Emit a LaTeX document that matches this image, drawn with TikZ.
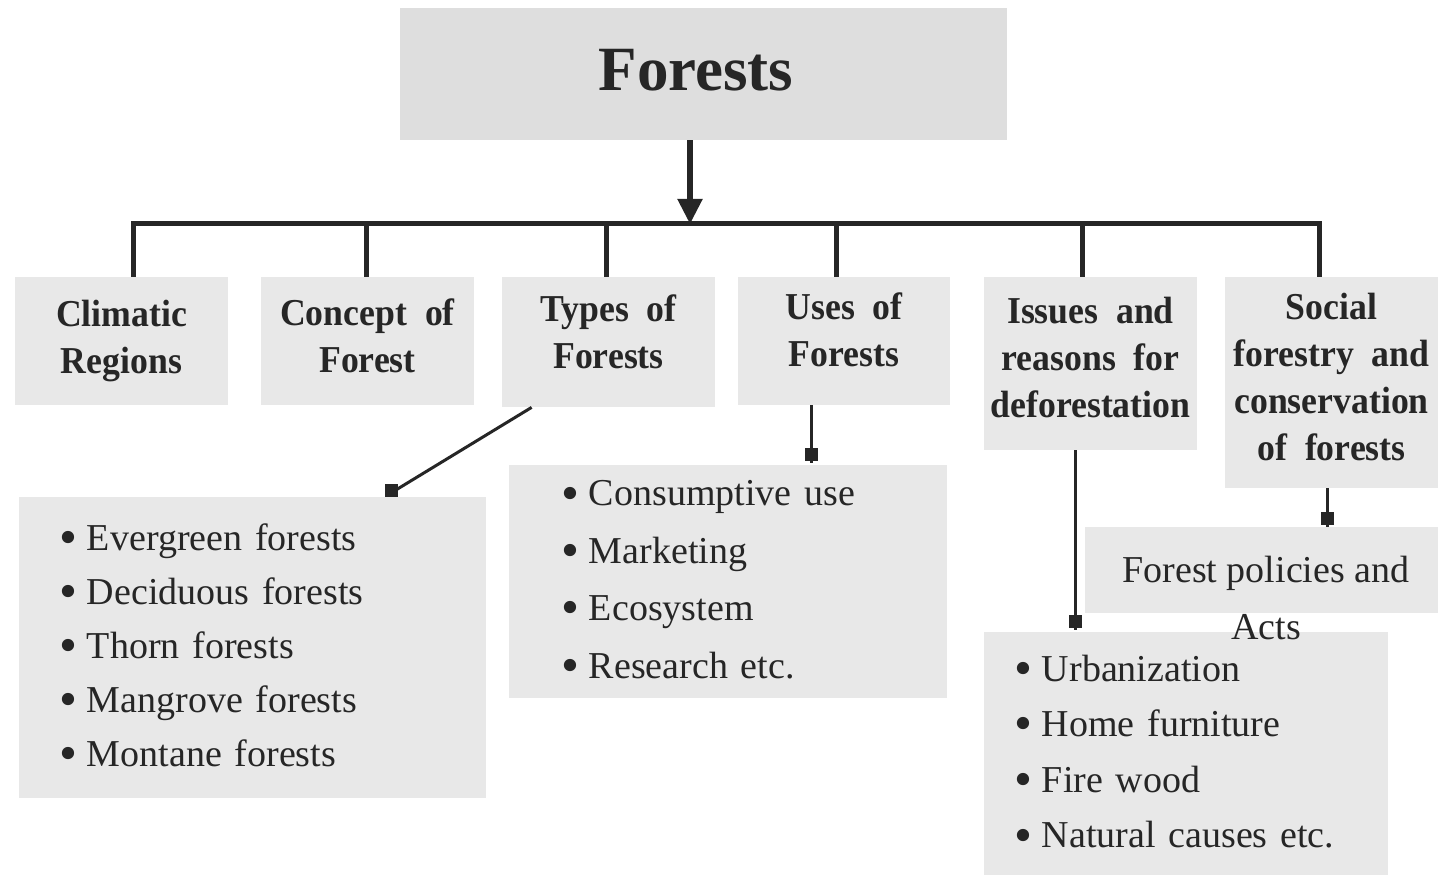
\documentclass[tikz,border=0pt]{standalone}
\usepackage{fontspec}
\setmainfont{Liberation Serif}
\newfontfamily\headfont[FakeStretch=0.94]{Liberation Serif}
\usetikzlibrary{arrows.meta}
\definecolor{boxgray}{HTML}{E8E8E8}
\definecolor{topgray}{HTML}{DEDEDE}
\definecolor{ink}{HTML}{262626}
\newcommand\itembul{\raisebox{-2.1pt}{\scalebox{1.35}{\textbullet}}\hspace{5pt}}
\newcommand\dph{\vphantom{g}}
\newcommand\dpx[1]{\rule[-#1]{0pt}{0pt}}
\begin{document}
\begin{tikzpicture}[x=0.5pt,y=-0.5pt,
  box/.style={fill=boxgray, draw=none, inner sep=0pt, text=ink},
  head/.style={box, minimum width=106.5pt, minimum height=64pt, align=center,
    font=\headfont\bfseries\fontsize{19}{23.5}\selectfont},
  listbox/.style={box, align=left, inner ysep=0pt},
  barline/.style={line width=2.5pt, draw=ink},
  conn/.style={line width=1.5pt, draw=ink},
  sq/.style={fill=ink, draw=none, inner sep=0pt, minimum size=6.5pt, anchor=south}]
\useasboundingbox (0,0) rectangle (1439,876);

% title
\node[fill=topgray, inner sep=0pt, minimum width=303.5pt, minimum height=66pt] (title) at (703.5,74) {};
\node[text=ink, inner sep=0pt, font=\bfseries\fontsize{31.5}{36}\selectfont] (titletext) at (696,70) {Forests};

% heading boxes
\node[head] (b1) at (121.5,341) {Climatic\\Regions};
\node[head] (b2) at (367.5,341) {Concept\ \ of\\Forest\dpx{5pt}};
\node[head, minimum height=65pt] (b3) at (608.5,342) {Types\ \ of\\Forests\dpx{10pt}};
\node[head, minimum width=106pt] (b4) at (844,341) {Uses\ \ of\\Forests\dpx{11pt}};
\node[head, minimum height=86.5pt] (b5) at (1090.5,363.5) {Issues\ \ and\\reasons\ \ for\\deforestation\dpx{6pt}};
\node[head, minimum height=105.5pt] (b6) at (1331.5,382.5) {Social\\forestry\ \ and\\conservation\\of\ \ forests\dpx{5.5pt}};

% list boxes
\node[listbox, text width=193.5pt, inner xsep=20pt, minimum height=150.5pt,
  font=\fontsize{19}{27}\selectfont] (L3) at (252.5,647.5)
  {\itembul Evergreen forests\\\itembul Deciduous forests\\\itembul Thorn forests\\\itembul Mangrove forests\\\itembul Montane forests};
\node[listbox, text width=167pt, inner xsep=26pt, minimum height=116.5pt,
  font=\fontsize{19}{28.7}\selectfont] (L4) at (728,581.5)
  {\itembul Consumptive use\\\itembul Marketing\\\itembul Ecosystem\\\itembul Research etc.};
\node[listbox, text width=172pt, inner xsep=15pt, minimum height=121.5pt,
  font=\fontsize{19}{27.8}\selectfont] (L5) at (1186,753.5)
  {\itembul Urbanization\\\itembul Home furniture\\\itembul Fire wood\\\itembul Natural causes etc.};
\node[box, minimum width=176.5pt, minimum height=43pt] (L6) at (1261.5,570) {};
\node[text=ink, inner sep=0pt, align=center, font=\fontsize{19}{28.5}\selectfont] (L6t) at (1266,598) {Forest policies and\\Acts};

% tree connectors
\coordinate (hub) at (690,224);
\coordinate (j1) at (133,224);
\coordinate (j2) at (366,224);
\coordinate (j3) at (606,224);
\coordinate (j4) at (836,224);
\coordinate (j5) at (1082,224);
\coordinate (j6) at (1319,224);
\draw[barline] (j1 |- b1.north) -- (j1) -- (j6) -- (j6 |- b6.north);
\foreach \i/\b in {2/b2,3/b3,4/b4,5/b5} \draw[barline] (j\i) -- (j\i |- \b.north);
\draw[line width=2.6pt, draw=ink, -{Triangle[length=12.5pt,width=12pt]}] (title.south -| hub) -- (hub);

% detail connectors
\coordinate (u3) at ([xshift=15pt]b3.south west);
\coordinate (v3) at ([xshift=186.5pt,yshift=-1pt]L3.north west);
\draw[conn] (u3) -- ([yshift=3pt]v3) node[sq] (s3) at (v3) {};
\coordinate (u4) at ([xshift=37pt]b4.south west);
\draw[conn] (u4) -- ([yshift=1pt]u4 |- L4.north) node[sq] (s4) {};
\coordinate (u5) at ([xshift=46pt]b5.south west);
\draw[conn] (u5) -- ([yshift=1pt]u5 |- L5.north) node[sq] (s5) {};
\coordinate (u6) at ([xshift=51.5pt]b6.south west);
\draw[conn] (u6) -- (u6 |- L6.north) node[sq] (s6) {};
\end{tikzpicture}
\end{document}
